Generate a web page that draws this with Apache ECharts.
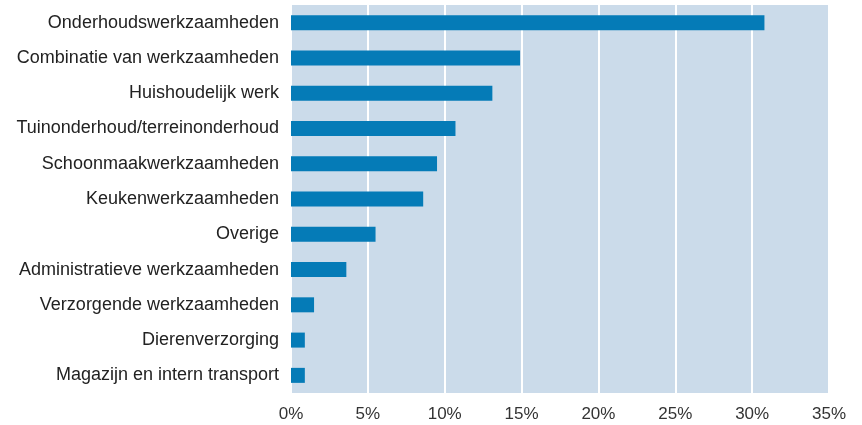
<!DOCTYPE html>
<html>
<head>
<meta charset="utf-8">
<script src="https://cdn.jsdelivr.net/npm/echarts@6/dist/echarts.min.js"></script>
<style>
  html, body { margin: 0; padding: 0; background: #fff; }
  #chart { width: 862px; height: 425px; }
</style>
</head>
<body>
<div id="chart"></div>
<script>
  // categories from top to bottom
  const categories = [
    'Onderhoudswerkzaamheden',
    'Combinatie van werkzaamheden',
    'Huishoudelijk werk',
    'Tuinonderhoud/terreinonderhoud',
    'Schoonmaakwerkzaamheden',
    'Keukenwerkzaamheden',
    'Overige',
    'Administratieve werkzaamheden',
    'Verzorgende werkzaamheden',
    'Dierenverzorging',
    'Magazijn en intern transport'
  ];
  const shares = [30.8, 14.9, 13.1, 10.7, 9.5, 8.6, 5.5, 3.6, 1.5, 0.9, 0.9];

  let myChart = echarts.init(document.getElementById('chart'));

  let options = {
    animation: false,
    textStyle: { fontFamily: 'Liberation Sans' },
    grid: {
      left: 291,
      right: 33,
      top: 5,
      bottom: 32,
      show: true,
      backgroundColor: '#cbdbea',
      borderWidth: 0
    },
    xAxis: {
      type: 'value',
      min: 0,
      max: 35,
      interval: 5,
      axisLine: { show: false },
      axisTick: { show: false },
      splitLine: { lineStyle: { color: '#ffffff', width: 2 } },
      axisLabel: {
        formatter: '{value}%',
        color: '#333',
        fontSize: 17,
        margin: 13,
        showMaxLabel: true
      }
    },
    yAxis: {
      type: 'category',
      inverse: true,
      data: categories,
      axisLine: { show: false },
      axisTick: { show: false },
      axisLabel: { color: '#222', fontSize: 18, margin: 12 }
    },
    series: [{
      type: 'bar',
      data: shares,
      barWidth: 15,
      itemStyle: { color: '#057bb7' }
    }]
  };

  myChart.setOption(options);
</script>
</body>
</html>
